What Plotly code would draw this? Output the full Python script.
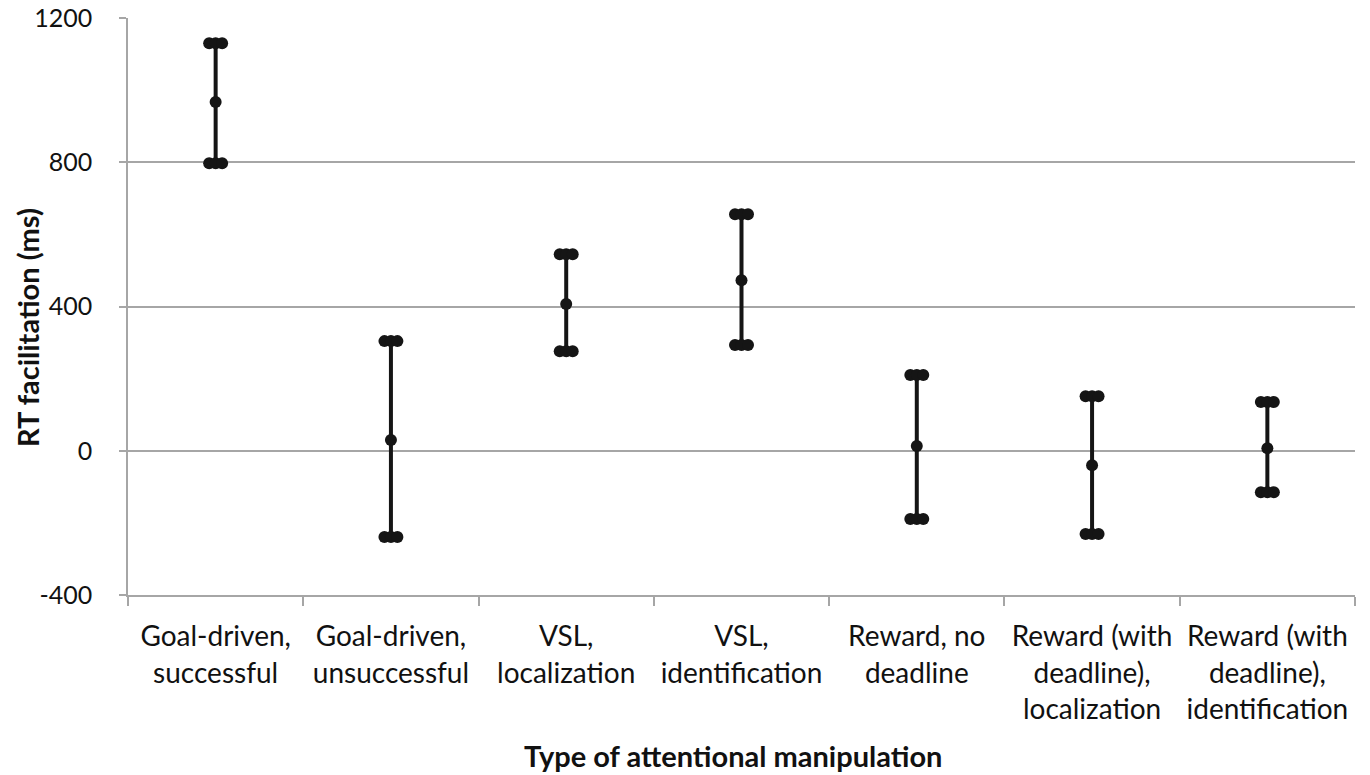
import plotly.graph_objects as go

# RT facilitation (ms) per attentional manipulation: mean with upper / lower bounds
categories = [
    "Goal-driven,<br>successful",
    "Goal-driven,<br>unsuccessful",
    "VSL,<br>localization",
    "VSL,<br>identification",
    "Reward, no<br>deadline",
    "Reward (with<br>deadline),<br>localization",
    "Reward (with<br>deadline),<br>identification",
]
upper = [1130, 304, 545, 656, 210, 151, 135]
mean = [967, 30, 407, 473, 13, -40, 7]
lower = [797, -239, 276, 293, -189, -231, -115]

y_ticks = [-400, 0, 400, 800, 1200]
y_tick_labels = ["-400", "0", "400", "800", "1200"]

FONT = "Lato, 'Open Sans', sans-serif"
INK = "#151515"
GRID = "#a6a6a6"

pos = list(range(1, len(categories) + 1))
cap_offsets = [-0.037, 0.0, 0.037]

fig = go.Figure()

# vertical range lines
vx, vy = [], []
for p, lo, hi in zip(pos, lower, upper):
    vx += [p, p, None]
    vy += [lo, hi, None]
fig.add_trace(go.Scatter(x=vx, y=vy, mode="lines",
                         line=dict(color=INK, width=4), hoverinfo="skip"))

# caps drawn as a row of three dots at each bound
for bound in (upper, lower):
    cx, cy = [], []
    for p, v in zip(pos, bound):
        for o in cap_offsets:
            cx.append(p + o)
            cy.append(v)
    fig.add_trace(go.Scatter(x=cx, y=cy, mode="markers",
                             marker=dict(color=INK, size=12)))

# mean markers
fig.add_trace(go.Scatter(x=pos, y=mean, mode="markers",
                         marker=dict(color=INK, size=12)))

fig.update_layout(
    width=1370, height=775,
    margin=dict(l=128, r=15, t=18, b=180),
    paper_bgcolor="white", plot_bgcolor="white",
    showlegend=False,
    font=dict(family=FONT, color="#111111", size=26),
    xaxis=dict(
        range=[0.5, len(categories) + 0.5],
        tickmode="array", tickvals=pos, ticktext=categories,
        ticks="", tickangle=0, ticklabelstandoff=16,
        tickfont=dict(size=28, family=FONT),
        minor=dict(tickmode="array",
                   tickvals=[p - 0.5 for p in pos] + [pos[-1] + 0.5],
                   ticks="outside", ticklen=9, tickcolor=GRID, tickwidth=1.5,
                   showgrid=False),
        showline=True, linecolor=GRID, linewidth=1.5,
        showgrid=False, zeroline=False, automargin=False,
    ),
    yaxis=dict(
        range=[-400, 1200],
        tickmode="array", tickvals=y_ticks, ticktext=y_tick_labels,
        ticks="outside", ticklen=7, tickcolor=GRID, tickwidth=1.5,
        ticklabelstandoff=22,
        tickfont=dict(size=25, family=FONT),
        showline=True, linecolor=GRID, linewidth=1.5,
        showgrid=True, gridcolor=GRID, gridwidth=1.5,
        zeroline=True, zerolinecolor=GRID, zerolinewidth=1.5,
        automargin=False,
    ),
    annotations=[
        dict(text="<b>Type of attentional manipulation</b>",
             xref="paper", yref="paper", x=0.493, y=0,
             xanchor="center", yanchor="middle", yshift=-160,
             showarrow=False, font=dict(size=29, family=FONT)),
        dict(text="<b>RT facilitation (ms)</b>",
             xref="paper", yref="paper", x=0, y=0.4627,
             xanchor="center", yanchor="middle", xshift=-101,
             textangle=-90, showarrow=False,
             font=dict(size=29, family=FONT)),
    ],
)

fig.write_html("out.html")
